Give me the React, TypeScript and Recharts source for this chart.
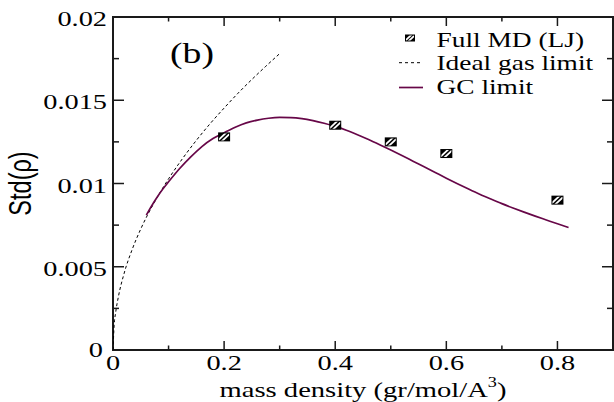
import React from 'react';
import { ComposedChart, XAxis, YAxis, Line, Scatter, ReferenceArea } from 'recharts';

// ---- data ----
const xTicks = [0, 0.1, 0.2, 0.3, 0.4, 0.5, 0.6, 0.7, 0.8];
const xMajorTicks = [0, 0.2, 0.4, 0.6, 0.8];
const xTickLabels = ['0', '0.2', '0.4', '0.6', '0.8'];

const yTicks = [0, 0.0025, 0.005, 0.0075, 0.01, 0.0125, 0.015, 0.0175, 0.02];
const yMajorTicks = [0, 0.005, 0.01, 0.015, 0.02];
const yTickLabels = ['0', '0.005', '0.01', '0.015', '0.02'];

// Full MD (LJ) simulation points
const mdDensity = [0.2, 0.4, 0.5, 0.6, 0.8];
const mdStd = [0.0128, 0.0135, 0.0125, 0.0118, 0.009];

// Ideal gas limit
const idealDensity = [0, 0.002, 0.005, 0.01, 0.02, 0.035, 0.05, 0.075, 0.1, 0.125, 0.15, 0.175, 0.2, 0.225, 0.25, 0.275, 0.3];
const idealStd = [0, 0.00145, 0.0023, 0.00325, 0.0046, 0.00608, 0.00727, 0.0089, 0.01028, 0.01149, 0.01259, 0.0136, 0.01453, 0.01542, 0.01625, 0.01704, 0.0178];

// Grand-canonical limit
const gcDensity = [0.06, 0.07, 0.08, 0.09, 0.1, 0.12, 0.14, 0.16, 0.18, 0.2, 0.22, 0.24, 0.26, 0.28, 0.3, 0.32, 0.34, 0.36, 0.38, 0.4, 0.42, 0.44, 0.46, 0.48, 0.5, 0.52, 0.54, 0.56, 0.58, 0.6, 0.62, 0.64, 0.66, 0.68, 0.7, 0.72, 0.74, 0.76, 0.78, 0.8, 0.82];
const gcStd = [0.0081, 0.00868, 0.0092, 0.00968, 0.0101, 0.0109, 0.0116, 0.01222, 0.0127, 0.01305, 0.01338, 0.01364, 0.01381, 0.01392, 0.01397, 0.01396, 0.0139, 0.01378, 0.01362, 0.01343, 0.0132, 0.01293, 0.01264, 0.01233, 0.01201, 0.01168, 0.01134, 0.011, 0.01066, 0.01032, 0.00999, 0.00967, 0.00936, 0.00907, 0.00879, 0.00853, 0.00828, 0.00804, 0.00781, 0.00758, 0.00736];

const zip = (xs: number[], ys: number[]) => xs.map((x, i) => ({ x, y: ys[i] }));
const mdRows = zip(mdDensity, mdStd);
const idealRows = zip(idealDensity, idealStd);
const gcRows = zip(gcDensity, gcStd);

// ---- layout / style ----
const W = 614;
const H = 402;
const PLOT = { left: 113, top: 17, right: 613, bottom: 350 };
const MARGIN = { top: PLOT.top, right: W - PLOT.right, bottom: 0, left: 0 };

const SERIF = '"Liberation Serif", "Times New Roman", serif';
const SANS = '"Liberation Sans", Arial, sans-serif';
const STRETCH = 1.35;
const AXIS_COLOR = '#1a1a1a';
const GC_COLOR = '#670748';

type STProps = {
  x: number;
  y: number;
  size: number;
  anchor?: 'start' | 'middle' | 'end';
  family?: string;
  sx?: number;
  rotate?: number;
  children: React.ReactNode;
};

function StretchText({ x, y, size, anchor = 'start', family = SERIF, sx = STRETCH, rotate, children }: STProps) {
  const t = `translate(${x} ${y}) scale(${sx} 1)` + (rotate ? ` rotate(${rotate})` : '');
  return (
    <text transform={t} textAnchor={anchor} fontSize={size} fontFamily={family} fill="#000">
      {children}
    </text>
  );
}

const findIdx = (arr: number[], v: number) => arr.findIndex((t) => Math.abs(t - v) < 1e-9);

function XTick(props: any) {
  const { x, payload } = props;
  const v = payload.value;
  const i = findIdx(xMajorTicks, v);
  const major = i >= 0;
  const len = major ? 9 : 4.5;
  return (
    <g>
      {v > 0 && (
        <>
          <line x1={x} x2={x} y1={PLOT.bottom} y2={PLOT.bottom - len} stroke={AXIS_COLOR} strokeWidth={1.5} />
          <line x1={x} x2={x} y1={PLOT.top} y2={PLOT.top + len} stroke={AXIS_COLOR} strokeWidth={1.5} />
        </>
      )}
      {major && (
        <StretchText x={x} y={370} size={21} anchor="middle">
          {xTickLabels[i]}
        </StretchText>
      )}
    </g>
  );
}

function YTick(props: any) {
  const { y, payload } = props;
  const v = payload.value;
  const i = findIdx(yMajorTicks, v);
  const major = i >= 0;
  const len = major ? 11 : 6;
  const edge = v <= 0 || v >= 0.02;
  return (
    <g>
      {!edge && (
        <>
          <line x1={PLOT.left} x2={PLOT.left + len} y1={y} y2={y} stroke={AXIS_COLOR} strokeWidth={1.5} />
          <line x1={PLOT.right} x2={PLOT.right - len} y1={y} y2={y} stroke={AXIS_COLOR} strokeWidth={1.5} />
        </>
      )}
      {major && (
        <StretchText x={v === 0 ? 103 : 107} y={v === 0 ? y + 7 : y + 9} size={21} anchor="end">
          {yTickLabels[i]}
        </StretchText>
      )}
    </g>
  );
}

// Black square with two white diagonal stripes
function Hatch({ cx, cy, w, h, id }: { cx: number; cy: number; w: number; h: number; id: string }) {
  const L = cx - w / 2;
  const T = cy - h / 2;
  const d = h * 0.8;
  return (
    <g>
      <defs>
        <clipPath id={id}>
          <rect x={L + 1} y={T + 1} width={w - 2} height={h - 2} />
        </clipPath>
      </defs>
      <rect x={L} y={T} width={w} height={h} fill="#000" />
      <g clipPath={`url(#${id})`} stroke="#fff" strokeWidth={1.8}>
        <line x1={cx - w * 0.2 - d} y1={cy + h * 0.75} x2={cx - w * 0.2 + d} y2={cy - h * 0.75} />
        <line x1={cx + w * 0.2 - d} y1={cy + h * 0.75} x2={cx + w * 0.2 + d} y2={cy - h * 0.75} />
      </g>
    </g>
  );
}

function MdPoint(props: any) {
  const { cx, cy, index } = props;
  if (cx == null || cy == null) return null;
  return <Hatch cx={cx} cy={cy} w={12} h={9} id={`md-hatch-${index}`} />;
}

// Panel tag, axis titles and legend, drawn in the plot frame's label layer
function Decorations() {
  const midX = (PLOT.left + PLOT.right) / 2;
  const midY = (PLOT.top + PLOT.bottom) / 2;
  return (
    <g>
      <StretchText x={170} y={62.5} size={29} sx={1.3}>
        (b)
      </StretchText>
      <StretchText x={midX} y={397} size={22} sx={1.3} anchor="middle">
        mass density (gr/mol/A
        <tspan fontSize={14} dy={-10}>3</tspan>
        <tspan dy={10}>)</tspan>
      </StretchText>
      <StretchText x={31} y={midY} size={23.5} family={SANS} anchor="middle" rotate={-90}>
        Std(ρ)
      </StretchText>

      <Hatch cx={410} cy={38} w={10} h={7} id="legend-hatch" />
      <StretchText x={436.5} y={46.5} size={20} sx={1.37}>
        Full MD (LJ)
      </StretchText>
      <line x1={399} x2={423} y1={62.7} y2={62.7} stroke="#000" strokeWidth={1} strokeDasharray="3 3" />
      <StretchText x={436.5} y={70} size={20} sx={1.37}>
        Ideal gas limit
      </StretchText>
      <line x1={399} x2={423} y1={87.5} y2={87.5} stroke={GC_COLOR} strokeWidth={1.7} />
      <StretchText x={436.5} y={93.5} size={20} sx={1.37}>
        GC limit
      </StretchText>
    </g>
  );
}

export default function App() {
  return (
    <div style={{ position: 'absolute', left: 0, top: 0, width: W, height: H, background: '#fff' }}>
      <ComposedChart width={W} height={H} margin={MARGIN}>
        <XAxis
          type="number"
          dataKey="x"
          domain={[0, 0.9]}
          allowDataOverflow
          ticks={xTicks}
          interval={0}
          height={H - PLOT.bottom}
          tickSize={0}
          tickMargin={0}
          tickLine={false}
          axisLine={false}
          tick={<XTick />}
        />
        <YAxis
          type="number"
          dataKey="y"
          domain={[0, 0.02]}
          allowDataOverflow
          ticks={yTicks}
          interval={0}
          width={PLOT.left}
          tickSize={0}
          tickMargin={0}
          tickLine={false}
          axisLine={false}
          tick={<YTick />}
        />
        <ReferenceArea
          x1={0}
          x2={0.9}
          y1={0}
          y2={0.02}
          fill="none"
          fillOpacity={0}
          stroke={AXIS_COLOR}
          strokeWidth={2}
          label={() => <Decorations />}
        />
        <Line
          data={idealRows}
          dataKey="y"
          type="monotone"
          stroke="#000"
          strokeWidth={1}
          strokeDasharray="3 2.5"
          dot={false}
          isAnimationActive={false}
        />
        <Line
          data={gcRows}
          dataKey="y"
          type="monotone"
          stroke={GC_COLOR}
          strokeWidth={1.7}
          dot={false}
          isAnimationActive={false}
        />
        <Scatter data={mdRows} dataKey="y" shape={<MdPoint />} isAnimationActive={false} />
      </ComposedChart>
    </div>
  );
}
